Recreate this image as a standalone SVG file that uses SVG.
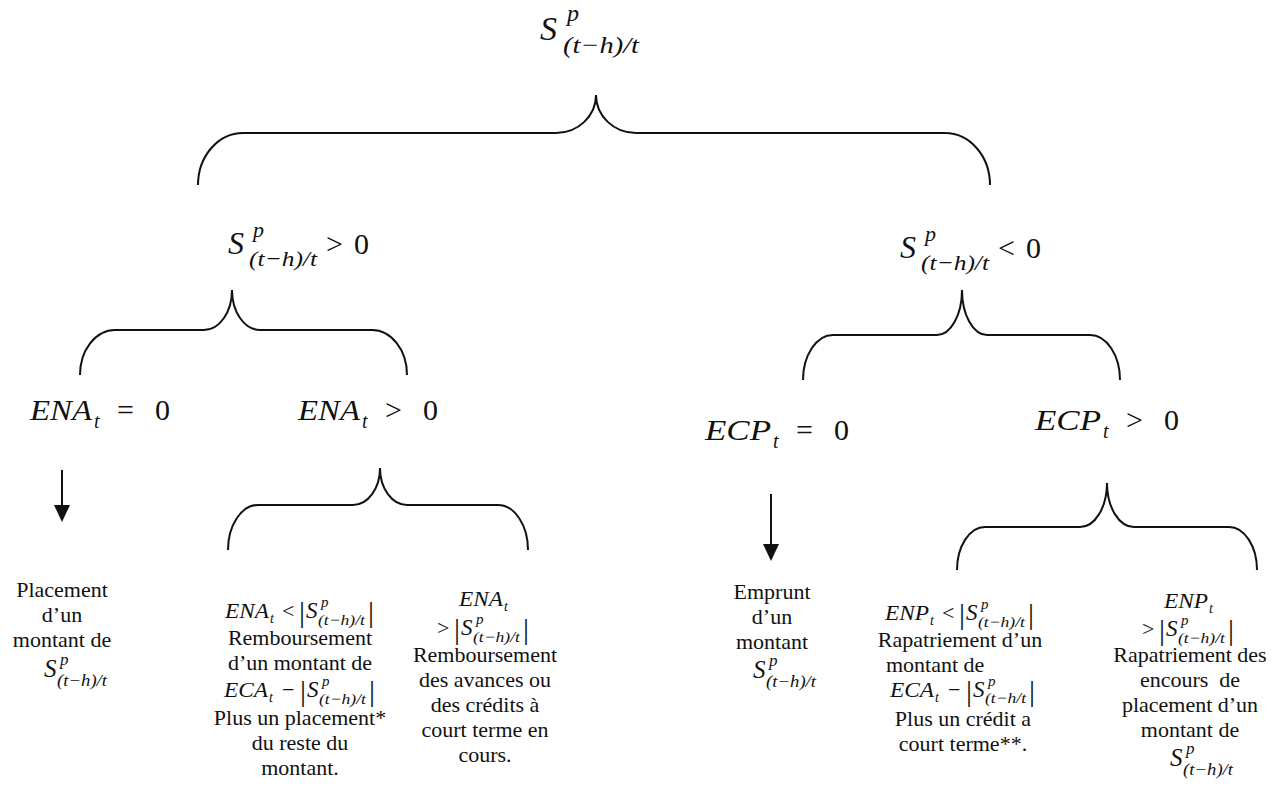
<svg xmlns="http://www.w3.org/2000/svg" width="1286" height="803" viewBox="0 0 1286 803">
<style>
.tx{font-family:'Liberation Serif','DejaVu Serif',serif;font-size:22px;text-anchor:middle;fill:#111}
.mi{font-family:'Liberation Serif','DejaVu Serif',serif;font-style:italic;fill:#111}
.mu{font-family:'Liberation Serif','DejaVu Serif',serif;fill:#111}
.br{fill:none;stroke:#111;stroke-width:2}
.ar{stroke:#111;stroke-width:2}
</style>
<rect width="1286" height="803" fill="#fff"/>

<g id="connectors">
<path class="br" d="M198,185 A45,52 0 0 1 243,133 L556,133 A40,38 0 0 0 596,95 A40,38 0 0 0 636,133 L945,133 A45,52 0 0 1 990,185"/>
<path class="br" d="M80,375 A35,45 0 0 1 115,330 L204,330 A28,40 0 0 0 232,290 A28,40 0 0 0 260,330 L372,330 A35,45 0 0 1 407,375"/>
<path class="br" d="M803,380 A30,45 0 0 1 833,335 L937,335 A25,45 0 0 0 962,290 A25,45 0 0 0 987,335 L1090,335 A30,45 0 0 1 1120,380"/>
<path class="br" d="M228,550 A30,45 0 0 1 258,505 L353,505 A27,37 0 0 0 380,468 A27,37 0 0 0 407,505 L498,505 A30,45 0 0 1 528,550"/>
<path class="br" d="M957,570 A28,43 0 0 1 985,527 L1080,527 A27,44 0 0 0 1107,483 A27,44 0 0 0 1134,527 L1229,527 A28,43 0 0 1 1257,570"/>
<line class="ar" x1="62" y1="470" x2="62" y2="508"/>
<polygon points="54,505 70,505 62,522" fill="#111"/>
<line class="ar" x1="771" y1="494" x2="771" y2="546"/>
<polygon points="763,544 779,544 771,561" fill="#111"/>
</g>

<g id="n-root">
<text class="mi" x="540" y="40" font-size="34">S</text>
<text class="mi" x="567" y="21" font-size="24">p</text>
<text class="mi" x="563" y="53" font-size="24" textLength="76" lengthAdjust="spacingAndGlyphs">(t−h)/t</text>
</g>

<g id="n-pos" transform="translate(228,254)">
<text class="mi" x="0" y="0" font-size="32">S</text>
<text class="mi" x="25" y="-17" font-size="22">p</text>
<text class="mi" x="21" y="12" font-size="22" textLength="68" lengthAdjust="spacingAndGlyphs">(t−h)/t</text>
<text class="mu" x="98" y="0" font-size="30">&gt;</text>
<text class="mu" x="126" y="0" font-size="30">0</text>
</g>

<g id="n-neg" transform="translate(900,258)">
<text class="mi" x="0" y="0" font-size="32">S</text>
<text class="mi" x="25" y="-17" font-size="22">p</text>
<text class="mi" x="21" y="12" font-size="22" textLength="68" lengthAdjust="spacingAndGlyphs">(t−h)/t</text>
<text class="mu" x="98" y="0" font-size="30">&lt;</text>
<text class="mu" x="126" y="0" font-size="30">0</text>
</g>

<g id="n-ena0" transform="translate(30,420)">
<text class="mi" x="0" y="0" font-size="30" textLength="62" lengthAdjust="spacingAndGlyphs">ENA</text>
<text class="mi" x="64" y="8" font-size="20">t</text>
<text class="mu" x="87" y="0" font-size="30">=</text>
<text class="mu" x="125" y="0" font-size="30">0</text>
</g>

<g id="n-enap" transform="translate(298,420)">
<text class="mi" x="0" y="0" font-size="30" textLength="62" lengthAdjust="spacingAndGlyphs">ENA</text>
<text class="mi" x="64" y="8" font-size="20">t</text>
<text class="mu" x="87" y="0" font-size="30">&gt;</text>
<text class="mu" x="125" y="0" font-size="30">0</text>
</g>

<g id="n-ecp0" transform="translate(705,440)">
<text class="mi" x="0" y="0" font-size="30" textLength="66" lengthAdjust="spacingAndGlyphs">ECP</text>
<text class="mi" x="68" y="8" font-size="20">t</text>
<text class="mu" x="91" y="0" font-size="30">=</text>
<text class="mu" x="129" y="0" font-size="30">0</text>
</g>

<g id="n-ecpp" transform="translate(1035,430)">
<text class="mi" x="0" y="0" font-size="30" textLength="66" lengthAdjust="spacingAndGlyphs">ECP</text>
<text class="mi" x="68" y="8" font-size="20">t</text>
<text class="mu" x="91" y="0" font-size="30">&gt;</text>
<text class="mu" x="129" y="0" font-size="30">0</text>
</g>

<g id="leaf-placement">
<text class="tx" x="62" y="597">Placement</text>
<text class="tx" x="62" y="622">d’un</text>
<text class="tx" x="62" y="647">montant de</text>
<g transform="translate(44,677)">
<text class="mi" x="0" y="0" font-size="25">S</text>
<text class="mi" x="16" y="-12" font-size="17">p</text>
<text class="mi" x="13" y="9" font-size="17" textLength="50" lengthAdjust="spacingAndGlyphs">(t−h)/t</text>
</g>
</g>

<g id="leaf-rembourse1">
<g transform="translate(225,618)">
<text class="mi" x="0" y="0" font-size="22" textLength="44" lengthAdjust="spacingAndGlyphs">ENA</text>
<text class="mi" x="45" y="5" font-size="14">t</text>
<text class="mu" x="57" y="0" font-size="22">&lt;</text>
<text class="mu" x="74" y="4" font-size="30">|</text>
<text class="mi" x="81" y="0" font-size="23">S</text>
<text class="mi" x="96" y="-11" font-size="15">p</text>
<text class="mi" x="93" y="7" font-size="15" textLength="47" lengthAdjust="spacingAndGlyphs">(t−h)/t</text>
<text class="mu" x="143" y="4" font-size="30">|</text>
</g>
<text class="tx" x="300" y="645">Remboursement</text>
<text class="tx" x="300" y="670">d’un montant de</text>
<g transform="translate(224,697)">
<text class="mi" x="0" y="0" font-size="22" textLength="44" lengthAdjust="spacingAndGlyphs">ECA</text>
<text class="mi" x="45" y="5" font-size="14">t</text>
<text class="mu" x="58" y="0" font-size="22">−</text>
<text class="mu" x="76" y="4" font-size="30">|</text>
<text class="mi" x="83" y="0" font-size="23">S</text>
<text class="mi" x="98" y="-11" font-size="15">p</text>
<text class="mi" x="95" y="7" font-size="15" textLength="47" lengthAdjust="spacingAndGlyphs">(t−h)/t</text>
<text class="mu" x="145" y="4" font-size="30">|</text>
</g>
<text class="tx" x="300" y="725">Plus un placement*</text>
<text class="tx" x="300" y="750">du reste du</text>
<text class="tx" x="300" y="775">montant.</text>
</g>

<g id="leaf-rembourse2">
<g transform="translate(459,606)">
<text class="mi" x="0" y="0" font-size="22" textLength="44" lengthAdjust="spacingAndGlyphs">ENA</text>
<text class="mi" x="45" y="5" font-size="14">t</text>
</g>
<g transform="translate(437,635)">
<text class="mu" x="0" y="0" font-size="22">&gt;</text>
<text class="mu" x="17" y="4" font-size="30">|</text>
<text class="mi" x="24" y="0" font-size="23">S</text>
<text class="mi" x="39" y="-11" font-size="15">p</text>
<text class="mi" x="36" y="7" font-size="15" textLength="47" lengthAdjust="spacingAndGlyphs">(t−h)/t</text>
<text class="mu" x="86" y="4" font-size="30">|</text>
</g>
<text class="tx" x="485" y="662">Remboursement</text>
<text class="tx" x="485" y="687">des avances ou</text>
<text class="tx" x="485" y="712">des crédits à</text>
<text class="tx" x="485" y="737">court terme en</text>
<text class="tx" x="485" y="762">cours.</text>
</g>

<g id="leaf-emprunt">
<text class="tx" x="772" y="599">Emprunt</text>
<text class="tx" x="772" y="624">d’un</text>
<text class="tx" x="772" y="649">montant</text>
<g transform="translate(753,678)">
<text class="mi" x="0" y="0" font-size="25">S</text>
<text class="mi" x="16" y="-12" font-size="17">p</text>
<text class="mi" x="13" y="9" font-size="17" textLength="50" lengthAdjust="spacingAndGlyphs">(t−h)/t</text>
</g>
</g>

<g id="leaf-rapatriement1">
<g transform="translate(885,620)">
<text class="mi" x="0" y="0" font-size="22" textLength="44" lengthAdjust="spacingAndGlyphs">ENP</text>
<text class="mi" x="45" y="5" font-size="14">t</text>
<text class="mu" x="57" y="0" font-size="22">&lt;</text>
<text class="mu" x="74" y="4" font-size="30">|</text>
<text class="mi" x="81" y="0" font-size="23">S</text>
<text class="mi" x="96" y="-11" font-size="15">p</text>
<text class="mi" x="93" y="7" font-size="15" textLength="47" lengthAdjust="spacingAndGlyphs">(t−h)/t</text>
<text class="mu" x="143" y="4" font-size="30">|</text>
</g>
<text class="tx" x="960" y="647">Rapatriement d’un</text>
<text class="tx" x="886" y="672" style="text-anchor:start">montant de</text>
<g transform="translate(890,697)">
<text class="mi" x="0" y="0" font-size="22" textLength="44" lengthAdjust="spacingAndGlyphs">ECA</text>
<text class="mi" x="45" y="5" font-size="14">t</text>
<text class="mu" x="58" y="0" font-size="22">−</text>
<text class="mu" x="76" y="4" font-size="30">|</text>
<text class="mi" x="83" y="0" font-size="23">S</text>
<text class="mi" x="98" y="-11" font-size="15">p</text>
<text class="mi" x="95" y="6" font-size="15" textLength="41" lengthAdjust="spacingAndGlyphs">(t−h/t</text>
<text class="mu" x="139" y="4" font-size="30">|</text>
</g>
<text class="tx" x="963" y="726">Plus un crédit a</text>
<text class="tx" x="963" y="751">court terme**.</text>
</g>

<g id="leaf-rapatriement2">
<g transform="translate(1164,608)">
<text class="mi" x="0" y="0" font-size="22" textLength="44" lengthAdjust="spacingAndGlyphs">ENP</text>
<text class="mi" x="45" y="5" font-size="14">t</text>
</g>
<g transform="translate(1142,636)">
<text class="mu" x="0" y="0" font-size="22">&gt;</text>
<text class="mu" x="17" y="4" font-size="30">|</text>
<text class="mi" x="24" y="0" font-size="23">S</text>
<text class="mi" x="39" y="-11" font-size="15">p</text>
<text class="mi" x="36" y="7" font-size="15" textLength="47" lengthAdjust="spacingAndGlyphs">(t−h)/t</text>
<text class="mu" x="86" y="4" font-size="30">|</text>
</g>
<text class="tx" x="1190" y="662">Rapatriement des</text>
<text class="tx" x="1190" y="687" style="white-space:pre">encours  de</text>
<text class="tx" x="1190" y="712">placement d’un</text>
<text class="tx" x="1190" y="737">montant de</text>
<g transform="translate(1170,766)">
<text class="mi" x="0" y="0" font-size="25">S</text>
<text class="mi" x="16" y="-12" font-size="17">p</text>
<text class="mi" x="13" y="9" font-size="17" textLength="50" lengthAdjust="spacingAndGlyphs">(t−h)/t</text>
</g>
</g>
</svg>
